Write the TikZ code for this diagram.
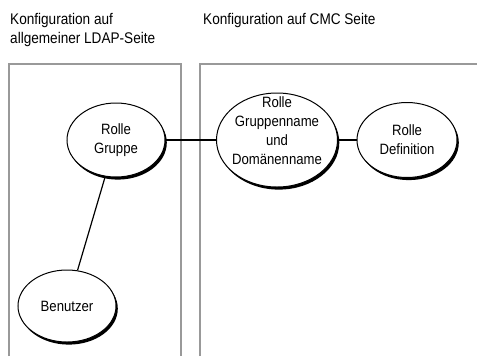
\documentclass[tikz,border=0pt]{standalone}
\usepackage{fontspec}
\setmainfont{Liberation Sans}[FakeStretch=0.88]
\usetikzlibrary{shapes.geometric,shadows}
\begin{document}
\begin{tikzpicture}[x=1bp,y=-1bp,
  role/.style={ellipse,draw,line width=1bp,fill=white,inner sep=0pt,align=center,
    font=\fontsize{15}{19}\selectfont,
    drop shadow={shadow xshift=1.8bp,shadow yshift=-2.6bp,fill=black,opacity=1}},
  roletext/.style={align=center,inner sep=0pt,font=\fontsize{15}{19}\selectfont},
  frame/.style={draw=black!40,line width=1.3bp}]
\useasboundingbox (0,0) rectangle (477,356);
\draw[frame] (9,356) -- (9,64) -- (181,64) -- (181,356);
\draw[frame] (200,356) -- (200,64) -- (477,64);
\node[anchor=west,align=left,inner sep=1bp,font=\fontsize{15.5}{18.5}\selectfont] (ldap) at (9,30) {Konfiguration auf\\allgemeiner LDAP-Seite};
\node[anchor=west,inner sep=1bp,font=\fontsize{15.5}{18.5}\selectfont] (cmc) at (202,21) {Konfiguration auf CMC Seite};
\node[role,minimum width=98bp,minimum height=74bp] (gruppe) at (116,140) {Rolle\\Gruppe};
\node[role,minimum width=98bp,minimum height=72bp] (benutzer) at (67,306) {Benutzer};
\node[role,minimum width=121bp,minimum height=94bp,
  label={[roletext,yshift=9bp]center:Rolle\\Gruppenname\\und\\Domänenname}] (name) at (277,140) {};
\node[role,minimum width=100bp,minimum height=75bp] (def) at (407,140) {Rolle\\Definition};
\draw[line width=1.2bp] (gruppe) -- (name);
\draw[line width=1.2bp] (name) -- (def);
\draw[line width=1.2bp] (gruppe) -- (benutzer);
\end{tikzpicture}
\end{document}
